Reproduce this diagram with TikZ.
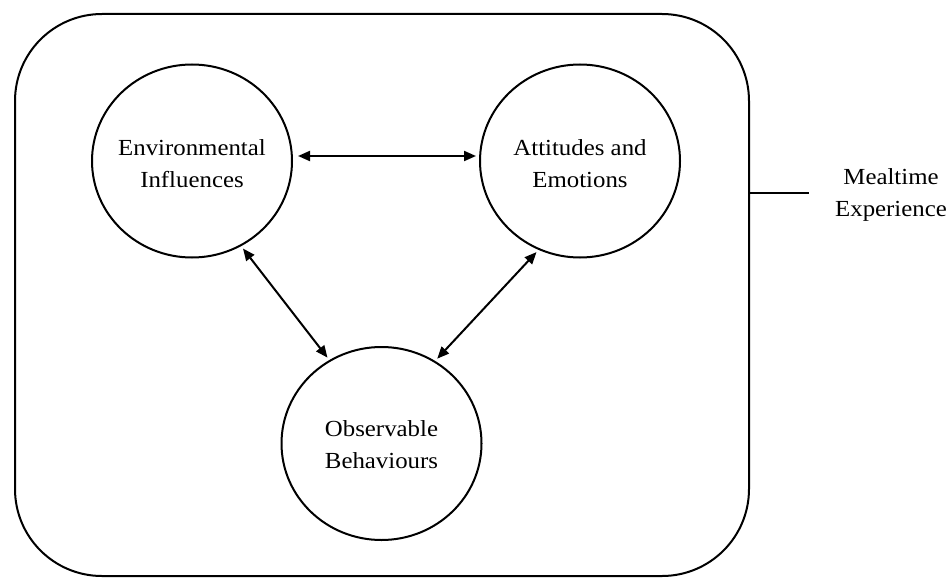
\documentclass[tikz,border=0pt]{standalone}
\usepackage{fontspec}
\setmainfont{Liberation Serif}
\usetikzlibrary{shapes.geometric,arrows.meta}
\newcommand{\twolines}[2]{\scalebox{1.08}[1]{\fontsize{23}{32}\selectfont\begin{tabular}{@{}c@{}}#1\\#2\end{tabular}}}
\begin{document}
\begin{tikzpicture}[x=1pt,y=-1pt,
  bubble/.style={draw, ellipse, line width=2pt, minimum width=200pt, minimum height=193pt, inner sep=0pt},
  frame/.style={draw, line width=2pt, rounded corners=87pt, minimum width=734pt, minimum height=562pt, inner sep=0pt},
  txt/.style={inner sep=0pt},
  link/.style={line width=2pt, {Triangle[length=12pt,width=10pt]}-{Triangle[length=12pt,width=10pt]}},
  plain/.style={line width=2pt}]
\useasboundingbox (0,0) rectangle (950,578);
\node[frame] (F) at (382,295) {};
\node[bubble] (E) at (192,161) {};
\node[bubble] (A) at (580,161) {};
\node[bubble] (O) at (381.5,443.5) {};
\node[txt] (Et) at ([yshift=-4pt]E.center) {\twolines{Environmental}{Influences}};
\node[txt] (At) at ([yshift=-4pt]A.center) {\twolines{Attitudes and}{Emotions}};
\node[txt] (Ot) at ([yshift=-3pt]O.center) {\twolines{Observable}{Behaviours}};
\node[txt] (M) at (891,194) {\twolines{Mealtime}{Experience}};
\coordinate (T) at (809,193);
\draw[link, shorten <=5pt, shorten >=3pt] ([yshift=5pt]E.east) -- ([yshift=5pt]A.west);
\draw[link, shorten <=3pt, shorten >=3pt] (E.-60) -- (O.122);
\draw[link, shorten <=3pt, shorten >=3pt] (A.245) -- (O.57);
\draw[plain] (T -| F.east) -- (T);
\end{tikzpicture}
\end{document}
